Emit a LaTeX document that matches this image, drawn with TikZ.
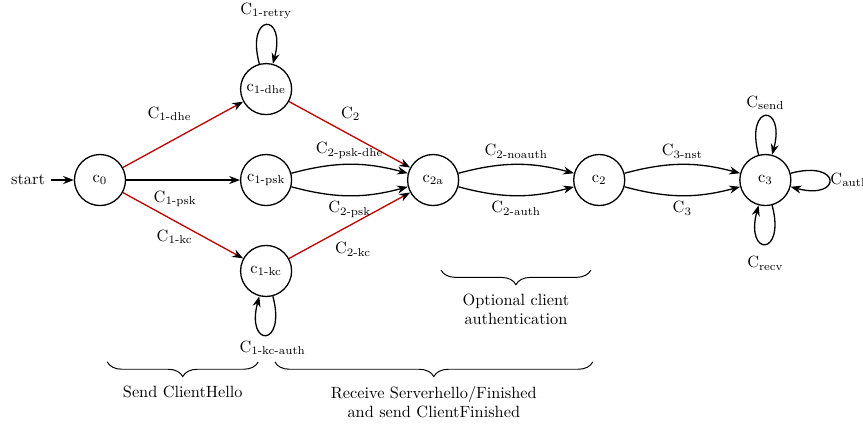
\documentclass[tikz,border=0pt]{standalone}
\usepackage{amsmath}
\usetikzlibrary{arrows.meta,shapes,positioning,decorations.pathreplacing}
\tikzstyle{key edge} = [draw=red!75!black,-{Stealth[color=black]}]
\tikzstyle{phase brace} = [decorate,decoration={brace,mirror,amplitude=9pt},semithick]

\begin{document}
\begin{tikzpicture}
[>=Stealth, %
lineDecorateout/.style={->,thick}, %
selfloop/.style={min distance=11.5mm}, %
client/.style={shape=circle,draw,thick,minimum size=1.1cm,inner sep=0pt}]

\useasboundingbox (-2.155,-5.345) rectangle (16.445,3.88);

%% states
\foreach \nodename/\x/\y/\sub in {
c0/0/0/0, c1dhe/3.58/1.96/1-dhe, c1psk/3.58/0/1-psk, c1kc/3.58/-1.96/1-kc,
c2a/7.18/0/2a, c2/10.76/0/2, c3/14.34/0/3}
{
\node (\nodename) at (\x,\y) [client] {$\mathrm{c}_\text{\sub}$};
}
\node (start) [left=0.5cm of c0] {start};

%% transitions
\path
(start) edge[lineDecorateout] (c0)
(c0) edge[lineDecorateout,key edge] node[pos=0.62,anchor=south east] {$\mathrm{C}_\text{1-dhe}$} (c1dhe)
(c0) edge[lineDecorateout] node[pos=0.43,anchor=north,yshift=-3pt] {$\mathrm{C}_\text{1-psk}$} (c1psk)
(c0) edge[lineDecorateout,key edge] node[pos=0.43,anchor=north,yshift=-2pt] {$\mathrm{C}_\text{1-kc}$} (c1kc)
(c1dhe) edge[lineDecorateout,key edge] node[pos=0.38,anchor=south west] {$\mathrm{C}_\text{2}$} (c2a)
(c1kc) edge[lineDecorateout,key edge] node[pos=0.33,anchor=north west] {$\mathrm{C}_\text{2-kc}$} (c2a)
(c1psk) edge[lineDecorateout,bend left=15] node[auto] {$\mathrm{C}_\text{2-psk-dhe}$} (c2a)
(c1psk) edge[lineDecorateout,bend right=15] node[auto,swap] {$\mathrm{C}_\text{2-psk}$} (c2a)
(c2a) edge[lineDecorateout,bend left=15] node[auto] {$\mathrm{C}_\text{2-noauth}$} (c2)
(c2a) edge[lineDecorateout,bend right=15] node[auto,swap] {$\mathrm{C}_\text{2-auth}$} (c2)
(c2) edge[lineDecorateout,bend left=15] node[auto] {$\mathrm{C}_\text{3-nst}$} (c3)
(c2) edge[lineDecorateout,bend right=15] node[auto,swap] {$\mathrm{C}_\text{3}$} (c3);

%% loops
\path
(c1dhe) edge[lineDecorateout,loop above,selfloop] node[above] {$\mathrm{C}_\text{1-retry}$} (c1dhe)
(c1kc) edge[lineDecorateout,loop below,selfloop] node[below,xshift=4pt] {$\mathrm{C}_\text{1-kc-auth}$} (c1kc)
(c3) edge[lineDecorateout,loop above,selfloop] node[above] {$\mathrm{C}_\text{send}$} (c3)
(c3) edge[lineDecorateout,loop right,selfloop] node[right,xshift=-3pt] {$\mathrm{C}_\text{auth}$} (c3)
(c3) edge[lineDecorateout,loop below,selfloop] node[below=4pt] {$\mathrm{C}_\text{recv}$} (c3);

%% phases
\foreach \bracename/\xa/\xb/\y/\text in {
hello/0.157/3.41/-3.92/{Send ClientHello},
server/3.77/10.62/-3.92/{Receive Serverhello/Finished\\and send ClientFinished},
auth/7.35/10.58/-1.94/{Optional client\\authentication}}
{
\coordinate (\bracename a) at (\xa,\y);
\coordinate (\bracename b) at (\xb,\y);
\draw[phase brace] (\bracename a) -- (\bracename b)
  node[midway,below=11pt,align=center] {\text};
}

\end{tikzpicture}
\end{document}
